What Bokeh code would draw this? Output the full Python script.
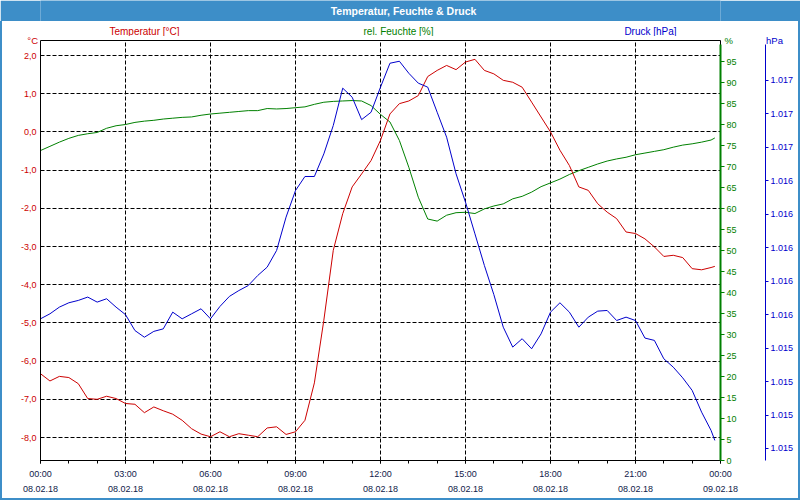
from bokeh.plotting import figure
from bokeh.layouts import column
from bokeh.models import LinearAxis, Range1d, FixedTicker, CustomJSTickFormatter, Grid
from bokeh.core.properties import value
from bokeh.embed import file_html
from bokeh.resources import INLINE

# ---------------- data (20-minute readings, 08.02.18) ----------------
temperatur = [
    -6.33, -6.52, -6.40, -6.43, -6.59, -6.98, -7.00, -6.92, -6.98, -7.11,
    -7.13, -7.35, -7.20, -7.30, -7.39, -7.55, -7.77, -7.91, -7.98, -7.85,
    -7.98, -7.90, -7.94, -7.98, -7.75, -7.72, -7.92, -7.85, -7.55, -6.57,
    -4.93, -3.10, -2.14, -1.44, -1.10, -0.75, -0.22, 0.47, 0.74, 0.81,
    0.95, 1.45, 1.61, 1.74, 1.63, 1.83, 1.90, 1.61, 1.52, 1.35,
    1.30, 1.17, 0.78, 0.39, 0.00, -0.48, -0.88, -1.44, -1.53, -1.88,
    -2.10, -2.27, -2.62, -2.66, -2.80, -3.01, -3.26, -3.23, -3.29, -3.58,
    -3.61, -3.55, -3.52]
feuchte = [
    73.8, 74.8, 75.8, 76.7, 77.4, 77.8, 78.1, 79.1, 79.7, 80.0,
    80.5, 80.8, 81.0, 81.3, 81.5, 81.7, 81.8, 82.2, 82.5, 82.7,
    82.9, 83.1, 83.3, 83.3, 83.8, 83.7, 83.8, 84.0, 84.2, 84.8,
    85.3, 85.5, 85.6, 85.7, 85.6, 84.5, 82.4, 80.6, 76.2, 69.8,
    62.7, 57.5, 57.0, 58.4, 59.0, 59.1, 58.8, 59.9, 60.6, 61.1,
    62.3, 62.9, 63.9, 65.2, 66.1, 67.0, 68.1, 69.0, 69.8, 70.6,
    71.3, 71.8, 72.2, 72.8, 73.2, 73.6, 74.0, 74.6, 75.1, 75.4,
    75.8, 76.3, 76.8]
druck = [
    1015.475, 1015.505, 1015.545, 1015.571, 1015.585, 1015.605, 1015.575, 1015.595, 1015.545, 1015.500,
    1015.405, 1015.365, 1015.400, 1015.415, 1015.515, 1015.475, 1015.505, 1015.535, 1015.475, 1015.549,
    1015.609, 1015.644, 1015.674, 1015.734, 1015.784, 1015.884, 1016.083, 1016.242, 1016.326, 1016.326,
    1016.461, 1016.631, 1016.854, 1016.800, 1016.666, 1016.710, 1016.860, 1017.003, 1017.015, 1016.943,
    1016.884, 1016.860, 1016.710, 1016.561, 1016.342, 1016.172, 1015.983, 1015.794, 1015.620, 1015.425,
    1015.306, 1015.356, 1015.296, 1015.385, 1015.515, 1015.571, 1015.515, 1015.425, 1015.485, 1015.521,
    1015.525, 1015.465, 1015.485, 1015.465, 1015.360, 1015.346, 1015.236, 1015.186, 1015.122, 1015.047,
    1014.917, 1014.808, 1014.748]
stunden = [k / 3 for k in range(72)] + [23.8]   # time of day in hours

temp_ticks = [-8, -7, -6, -5, -4, -3, -2, -1, 0, 1, 2]
feuchte_ticks = [0, 5, 10, 15, 20, 25, 30, 35, 40, 45, 50, 55, 60, 65, 70, 75, 80, 85, 90, 95]
druck_ticks = [1014.7, 1014.9, 1015.1, 1015.3, 1015.5, 1015.7, 1015.9, 1016.1, 1016.3, 1016.5, 1016.7, 1016.9]
zeit_ticks = [0, 3, 6, 9, 12, 15, 18, 21, 24]
zeit_labels = ["00:00", "03:00", "06:00", "09:00", "12:00", "15:00", "18:00", "21:00", "00:00"]
datum_labels = ["08.02.18"] * 8 + ["09.02.18"]

titel = "Temperatur, Feuchte & Druck"
serien = ["Temperatur [°C]", "rel. Feuchte [%]", "Druck [hPa]"]

# ranges of the three scales
T_LO, T_HI = -8.602, 2.393
H_LO, H_HI = 0, 100
P_LO, P_HI = 1014.628, 1017.139

# ---------------- style ----------------
RED = "#cc0000"
GREEN = "#008000"
BLUE = "#0000cc"
BAR = "#3d8ec8"
XLAB = "#10204a"
FONT = "Liberation Sans"
SIDES = f"inset 2px 0 0 {BAR}, inset -2px 0 0 {BAR}"
UNIT_DROP = 3.5  # px the unit captions sit below the frame top

# ---------------- header: title bar ----------------
H1, H2 = 21, 15
bar = figure(width=800, height=H1, output_backend="svg", toolbar_location=None,
             x_range=Range1d(40, 720), y_range=Range1d(H1, 0),
             x_axis_type=None, y_axis_type=None, min_border=0,
             background_fill_color=BAR, border_fill_color=BAR)
bar.outline_line_color = None
bar.text(x=[403], y=[10.5], text=[titel], text_color="white", text_align="center",
         text_baseline="middle", text_font=value(FONT), text_font_size="10.5px",
         text_font_style="bold")

# ---------------- header: series names ----------------
names = figure(width=800, height=H2, output_backend="svg", toolbar_location=None,
               x_range=Range1d(40, 720), y_range=Range1d(H2, 0),
               x_axis_type=None, y_axis_type=None, min_border=0,
               background_fill_color="white", border_fill_color="white", border_fill_alpha=0,
               styles={"background-color": "white", "box-shadow": SIDES})
names.outline_line_color = None
names.text(x=[144, 398, 650], y=[9.5, 9.5, 9.5], text=serien,
           text_color=[RED, GREEN, BLUE], text_align="center", text_baseline="middle",
           text_font=value(FONT), text_font_size="10px")

# ---------------- main chart ----------------
HM = 500 - H1 - H2
FRAME_H = 420
p = figure(width=800, height=HM, output_backend="svg", toolbar_location=None,
           x_range=Range1d(0, 24), y_range=Range1d(T_LO, T_HI),
           x_axis_type=None, y_axis_type=None,
           min_border_left=40, min_border_right=80, min_border_top=40 - H1 - H2, min_border_bottom=40,
           background_fill_color="white", border_fill_color="white", border_fill_alpha=0,
           styles={"background-color": "white",
                   "box-shadow": SIDES + f", inset 0 -2px 0 {BAR}"})
p.outline_line_color = "black"
p.extra_y_ranges = {"hum": Range1d(H_LO, H_HI), "pres": Range1d(P_LO, P_HI)}

def drop(lo, hi):
    return hi - UNIT_DROP * (hi - lo) / FRAME_H

p.add_layout(Grid(dimension=0, ticker=FixedTicker(ticks=zeit_ticks),
                  grid_line_color="black", grid_line_dash="4 2", grid_line_width=1))
p.add_layout(Grid(dimension=1, ticker=FixedTicker(ticks=temp_ticks),
                  grid_line_color="black", grid_line_dash="4 2", grid_line_width=1))

common = dict(major_label_text_font=FONT, major_label_text_font_size="9px",
              axis_label_text_font=FONT, axis_label_text_font_size="9.5px",
              axis_label_text_font_style="normal")

yl = LinearAxis(ticker=FixedTicker(ticks=temp_ticks), bounds=(T_LO, drop(T_LO, T_HI)),
                formatter=CustomJSTickFormatter(code="return tick.toFixed(1).replace('.', ',')"),
                axis_line_color="black", major_tick_in=0, major_tick_out=0,
                minor_tick_in=0, minor_tick_out=0,
                major_label_text_color=RED, major_label_standoff=4,
                axis_label="°C", axis_label_text_color=RED,
                axis_label_orientation="horizontal", axis_label_align="end",
                axis_label_text_baseline="top",
                axis_label_standoff=-20, **common)
p.add_layout(yl, "left")

xb1 = LinearAxis(ticker=FixedTicker(ticks=zeit_ticks, minor_ticks=list(range(25))),
                 major_label_overrides={t: s for t, s in zip(zeit_ticks, zeit_labels)},
                 axis_line_color="black", major_tick_line_color="black", minor_tick_line_color="black",
                 major_tick_in=0, major_tick_out=3, minor_tick_in=0, minor_tick_out=3,
                 major_label_text_color=XLAB, major_label_standoff=5, **common)
xb2 = LinearAxis(ticker=FixedTicker(ticks=zeit_ticks),
                 major_label_overrides={t: s for t, s in zip(zeit_ticks, datum_labels)},
                 axis_line_color=None, major_tick_line_color=None, minor_tick_line_color=None,
                 major_tick_in=0, major_tick_out=0, minor_tick_in=0, minor_tick_out=0,
                 major_label_text_color=XLAB, major_label_standoff=4, **common)
p.add_layout(xb1, "below")
p.add_layout(xb2, "below")

yr1 = LinearAxis(y_range_name="hum", ticker=FixedTicker(ticks=feuchte_ticks),
                 bounds=(H_LO, drop(H_LO, H_HI)),
                 axis_line_color=GREEN, axis_line_width=2,
                 major_tick_line_color=GREEN, major_tick_in=0, major_tick_out=4,
                 minor_tick_line_color=None, minor_tick_in=0, minor_tick_out=0,
                 major_label_text_color=GREEN, major_label_standoff=2,
                 axis_label="%", axis_label_text_color=GREEN,
                 axis_label_orientation="horizontal", axis_label_align="end",
                 axis_label_text_baseline="top",
                 axis_label_standoff=-15, **common)
spacer = LinearAxis(y_range_name="hum", ticker=FixedTicker(ticks=[]),
                    axis_line_color=None, major_tick_line_color=None, minor_tick_line_color=None,
                    major_tick_in=0, major_tick_out=0, minor_tick_in=0, minor_tick_out=0,
                    axis_label=" ", axis_label_standoff=16, axis_label_text_font_size="10px")
yr2 = LinearAxis(y_range_name="pres", ticker=FixedTicker(ticks=druck_ticks),
                 bounds=(P_LO, drop(P_LO, P_HI)),
                 formatter=CustomJSTickFormatter(code="return (Math.round(tick) / 1000).toFixed(3)"),
                 axis_line_color=BLUE, axis_line_width=1,
                 major_tick_line_color=BLUE, major_tick_in=0, major_tick_out=3,
                 minor_tick_line_color=None, minor_tick_in=0, minor_tick_out=0,
                 major_label_text_color=BLUE, major_label_standoff=2,
                 axis_label="hPa", axis_label_text_color=BLUE,
                 axis_label_orientation="horizontal", axis_label_align="end",
                 axis_label_text_baseline="top",
                 axis_label_standoff=-30, **common)
p.add_layout(yr1, "right")
p.add_layout(spacer, "right")
p.add_layout(yr2, "right")

p.line(stunden, feuchte, line_color=GREEN, line_width=1, y_range_name="hum")
p.line(stunden, temperatur, line_color=RED, line_width=1)
p.line(stunden, druck, line_color=BLUE, line_width=1, y_range_name="pres")

layout = column(bar, names, p, spacing=0)
open("out.html", "w").write(file_html(layout, INLINE))
